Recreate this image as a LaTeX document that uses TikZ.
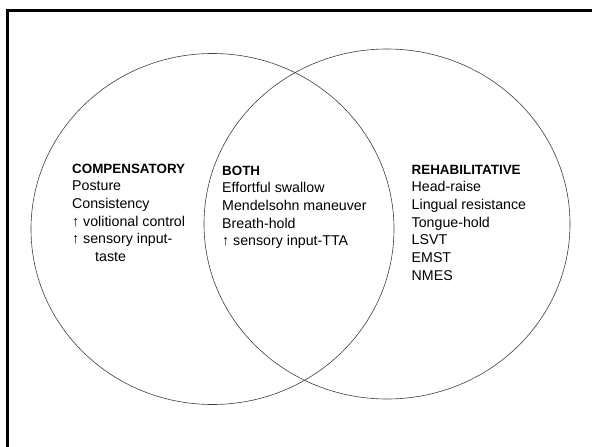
\documentclass[tikz,border=0pt]{standalone}
\usepackage{fontspec}
\setmainfont{Liberation Sans}
\usetikzlibrary{shapes.geometric}
\begin{document}
\begin{tikzpicture}[x=1pt,y=-1pt,
  ring/.style={draw=black!75,line width=0.6pt},
  frameline/.style={draw=black,line width=3pt},
  block/.style={anchor=base west,align=left,inner sep=0pt,
    font=\fontsize{14.2}{17.7}\selectfont},
  head/.style={font=\fontsize{13.4}{17.7}\selectfont\bfseries}]
\useasboundingbox[fill=white] (0,0) rectangle (592,447);
\draw[frameline] (7.5,460) -- (7.5,10.5) -- (600,10.5);
\node[ring,ellipse,minimum width=363pt,minimum height=351pt,inner sep=0pt] (L) at (212.5,229) {};
\node[ring,ellipse,minimum width=366pt,minimum height=350pt,inner sep=0pt] (R) at (387,224) {};
\node[block] (comp) at (72,261.5) {{\fontsize{13.4}{17.7}\selectfont\bfseries COMPENSATORY}\\Posture\\Consistency\\↑ volitional control\\↑ sensory input-\\\hspace*{23pt}taste};
\node[block] (both) at (222,245.8) {{\fontsize{13.4}{17.7}\selectfont\bfseries BOTH}\\Effortful swallow\\Mendelsohn maneuver\\Breath-hold\\↑ sensory input-TTA};
\node[block] (rehab) at (411.5,280.2) {{\fontsize{13.4}{17.7}\selectfont\bfseries REHABILITATIVE}\\Head-raise\\Lingual resistance\\Tongue-hold\\LSVT\\EMST\\NMES};
\end{tikzpicture}
\end{document}
